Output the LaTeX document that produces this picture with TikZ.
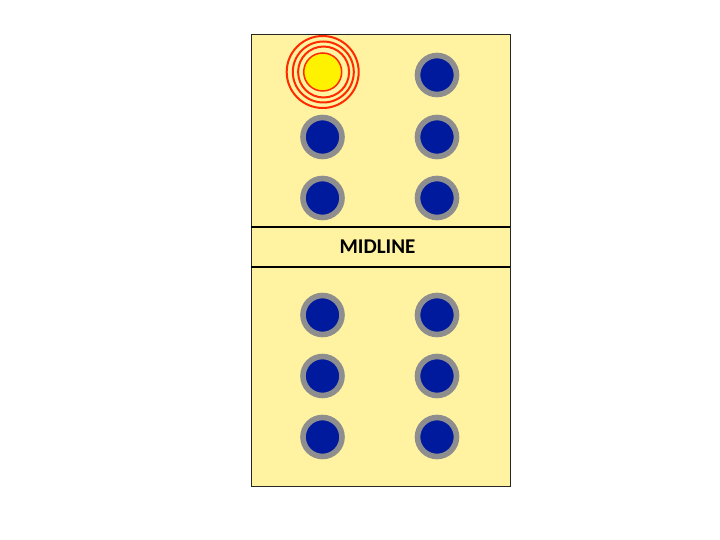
\documentclass[tikz,border=0pt]{standalone}
\usepackage{fontspec}
\setmainfont{Carlito}
\definecolor{tilebg}{HTML}{FFF2A1}
\definecolor{pipblue}{HTML}{001A9E}
\definecolor{pipgray}{HTML}{8E8E8E}
\definecolor{ringred}{HTML}{FF2A00}
\begin{document}
\begin{tikzpicture}[x=1pt,y=-1pt,
  pip/.style={circle,fill=pipblue,draw=pipgray,line width=5.6pt,minimum size=39pt,inner sep=0pt},
  ring/.style={circle,draw=ringred,line width=2pt,inner sep=0pt},
  sep/.style={draw=black,line width=1.6pt}]
\useasboundingbox (0,0) rectangle (720,540);
\draw[fill=tilebg,draw=black!85,line width=0.8pt] (251,34) rectangle (510,486);
\coordinate (l1) at (251,227); \coordinate (r1) at (510,227);
\coordinate (l2) at (251,267); \coordinate (r2) at (510,267);
\draw[sep] (l1) -- (r1);
\draw[sep] (l2) -- (r2);
\node[font=\bfseries\fontsize{21}{25}\selectfont] (mid) at (377.5,247) {MIDLINE};
% rings
\node[ring,minimum size=72pt] (ra) at (322.7,72) {};
\node[ring,minimum size=61pt] (rb) at (323.3,72) {};
\node[ring,minimum size=51pt] (rc) at (323.6,72) {};
\node[circle,fill=yellow,draw=ringred,line width=1.5pt,minimum size=38pt,inner sep=0pt] (sun) at (322.7,72) {};
% pips
\node[pip] (p12) at (437,75) {};
\node[pip] (p21) at (322.5,137) {};
\node[pip] (p22) at (437,137) {};
\node[pip] (p31) at (322.5,198) {};
\node[pip] (p32) at (437,198) {};
\node[pip] (q11) at (322.5,315) {};
\node[pip] (q12) at (437,315) {};
\node[pip] (q21) at (322.5,376) {};
\node[pip] (q22) at (437,376) {};
\node[pip] (q31) at (322.5,437) {};
\node[pip] (q32) at (437,437) {};
\end{tikzpicture}
\end{document}
